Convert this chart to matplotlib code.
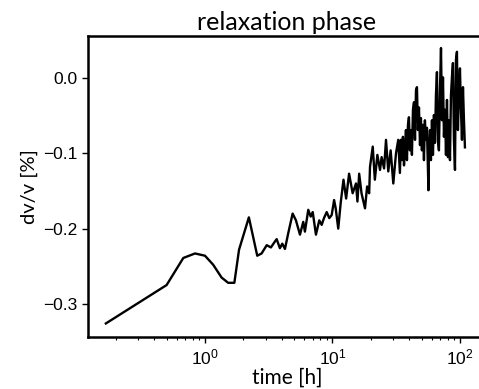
import matplotlib
matplotlib.use("Agg")
import matplotlib.pyplot as plt

# time since onset [h] and velocity change dv/v [%]
time_h = [
    0.167, 0.50, 0.676, 0.835, 1.0, 1.16, 1.35, 1.52, 1.70, 1.85,
    2.21, 2.57, 2.78, 3.05, 3.29, 3.54, 3.65, 3.87, 4.04, 4.24,
    4.50, 4.87, 5.17, 5.56, 5.90, 6.08, 6.46, 6.75, 7.00, 7.42,
    7.88, 8.23, 8.58, 9.01, 9.44, 9.86, 10.3, 10.6, 11.1, 11.6,
    12.2, 12.8, 13.5, 14.4, 15.3, 15.7, 16.2, 16.9, 18.0, 18.7,
    19.4, 19.7, 20.7, 21.5, 22.5, 23.6, 24.3, 25.4, 26.3, 27.4,
    28.6, 30.0, 31.5, 32.8,
    33.8, 34.4, 35.1, 35.7, 36.4, 37.0, 37.7, 38.4, 39.1, 39.8,
    40.5, 41.3, 42.0, 42.8, 43.6, 44.4, 45.2, 46.0, 46.8, 47.7,
    48.6, 49.4, 50.3, 51.3, 52.2, 53.1, 54.1, 55.1, 56.1, 56.6,
    57.1, 58.2, 59.2, 60.3, 61.4, 62.5, 63.7, 64.8, 66.0, 67.2,
    68.4, 69.7, 71.0, 72.3, 73.6, 74.9, 76.3, 77.7, 79.1, 80.5,
    82.0, 83.5, 85.0, 86.5, 88.1, 89.7, 91.4, 93.0, 94.7, 96.4,
    98.2, 100.0, 101.8, 103.7, 105.6, 107.5, 109.4,
]
dvv = [
    -0.326, -0.275, -0.239, -0.233, -0.236, -0.248, -0.265, -0.272, -0.272, -0.228,
    -0.185, -0.236, -0.233, -0.222, -0.225, -0.217, -0.214, -0.226, -0.220, -0.227,
    -0.206, -0.180, -0.189, -0.208, -0.191, -0.204, -0.175, -0.184, -0.178, -0.208,
    -0.189, -0.195, -0.186, -0.178, -0.186, -0.182, -0.162, -0.173, -0.200, -0.166,
    -0.135, -0.160, -0.127, -0.153, -0.140, -0.164, -0.127, -0.153, -0.173, -0.144,
    -0.153, -0.118, -0.091, -0.135, -0.102, -0.122, -0.105, -0.120, -0.082, -0.124,
    -0.096, -0.140, -0.100, -0.082,
    -0.126, -0.082, -0.109, -0.078, -0.116, -0.096, -0.069, -0.109, -0.062, -0.052,
    -0.096, -0.069, -0.102, -0.042, -0.032, -0.082, -0.016, -0.012, -0.069, -0.039,
    -0.089, -0.053, -0.096, -0.062, -0.109, -0.056, -0.082, -0.066, -0.122, -0.149,
    -0.096, -0.069, -0.109, -0.056, -0.102, -0.049, -0.086, -0.023, 0.008, -0.082,
    -0.096, -0.016, 0.040, -0.056, 0.001, -0.078, -0.042, -0.102, -0.029, -0.105,
    -0.056, -0.109, -0.023, 0.001, 0.020, -0.082, -0.122, 0.024, 0.035, -0.069,
    -0.016, 0.013, -0.042, -0.082, -0.012, -0.056, -0.092,
]

plt.rcParams["font.family"] = ["Lato", "DejaVu Sans"]

fig = plt.figure(figsize=(4.79, 3.89), dpi=100)
ax = fig.add_axes([0.1837, 0.1337, 0.83, 0.7738])

ax.plot(time_h, dvv, color="black", lw=1.7)

ax.set_xscale("log")
ax.set_xlim(0.1209, 158.8)
ax.set_ylim(-0.344, 0.056)
ax.set_yticks([-0.3, -0.2, -0.1, 0.0])
ax.set_yticklabels(["\u22120.3", "\u22120.2", "\u22120.1", "0.0"])

for s in ax.spines.values():
    s.set_linewidth(1.8)
ax.tick_params(which="major", length=4, width=1, labelsize=12.5,
               labelfontfamily="Liberation Sans")
ax.tick_params(which="minor", length=2, width=0.8)

ax.set_xlabel("time [h]", fontsize=15, fontweight="normal", labelpad=0)
ax.set_ylabel("dv/v [%]", fontsize=14.5, fontweight="normal", labelpad=4)
ax.set_title("relaxation phase", fontsize=18, fontweight="normal", pad=4)

fig.savefig("out.png", dpi=100)
